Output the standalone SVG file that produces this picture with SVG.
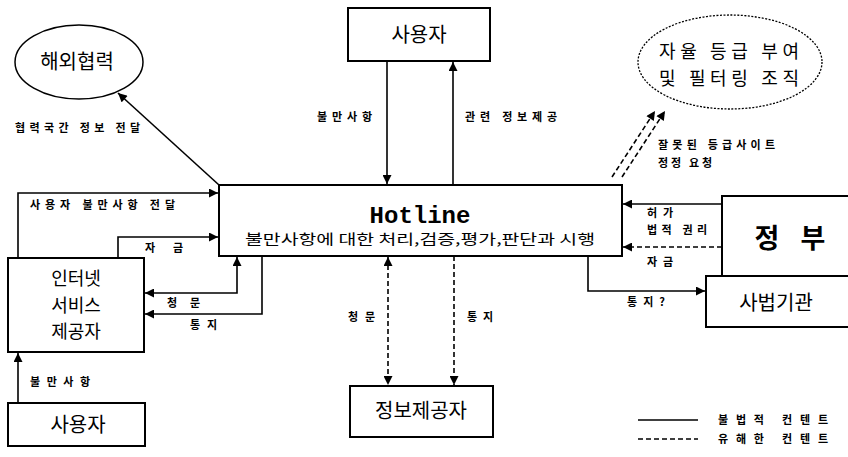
<svg xmlns="http://www.w3.org/2000/svg" width="848" height="457" viewBox="0 0 848 457">
<style>
.box{fill:#fff;stroke:#000;stroke-width:2}
.ell{fill:#fff;stroke:#000;stroke-width:1.5}
.ell-d{fill:#fff;stroke:#000;stroke-width:1.3;stroke-dasharray:2 1.5}
.ln{fill:none;stroke:#000;stroke-width:1.6}
.dl{fill:none;stroke:#000;stroke-width:1.6;stroke-dasharray:5 3}
.nt{font-family:"Noto Sans CJK KR","Noto Sans",sans-serif;font-size:20px;fill:#000;text-anchor:middle}
.ml{font-size:18px}
.lb{font-family:"Noto Sans CJK KR","Noto Sans",sans-serif;font-size:11px;font-weight:bold;fill:#000}
</style>
<defs>
<marker id="ah" viewBox="0 0 10 10" refX="10" refY="5" markerWidth="10" markerHeight="9" markerUnits="userSpaceOnUse" orient="auto-start-reverse">
<path d="M0 0 L10 5 L0 10 Z" fill="#000"/>
</marker>
</defs>
<rect width="848" height="457" fill="#fff"/>

<g id="connectors">
<path class="ln" d="M387 61 V184" marker-end="url(#ah)"/>
<path class="ln" d="M453 185 V62" marker-end="url(#ah)"/>
<path class="ln" d="M219 185 L118 93" marker-end="url(#ah)"/>
<path class="dl" d="M612 177 L655 111" marker-end="url(#ah)"/>
<path class="dl" d="M622 177 L665 111" marker-end="url(#ah)"/>
<path class="ln" d="M18 403 V353" marker-end="url(#ah)"/>
<path class="ln" d="M18 258 V193 H218" marker-end="url(#ah)"/>
<path class="ln" d="M118 258 V237 H218" marker-end="url(#ah)"/>
<path class="ln" d="M145 293 H237 V257" marker-start="url(#ah)" marker-end="url(#ah)"/>
<path class="ln" d="M262 256 V314 H145" marker-end="url(#ah)"/>
<path class="dl" d="M388 257 V385" marker-start="url(#ah)" marker-end="url(#ah)"/>
<path class="dl" d="M454 256 V385" marker-end="url(#ah)"/>
<path class="ln" d="M722 204 H623" marker-end="url(#ah)"/>
<path class="dl" d="M722 247 H623" marker-end="url(#ah)"/>
<path class="ln" d="M588 256 V291 H705" marker-end="url(#ah)"/>
</g>

<g id="hotline">
<rect class="box" x="219" y="185" width="403" height="71"/>
<text x="420" y="223" text-anchor="middle" font-family="'Liberation Mono','DejaVu Sans Mono',monospace" font-weight="bold" font-size="24">Hotline</text>
<text x="245" y="244" textLength="350" lengthAdjust="spacingAndGlyphs" font-family="'Noto Sans CJK KR','Noto Sans',sans-serif" font-size="14">불만사항에 대한 처리,검증,평가,판단과 시행</text>
</g>

<g id="user-top">
<rect class="box" x="348" y="8" width="142" height="53"/>
<text class="nt" x="419" y="42">사용자</text>
</g>

<g id="overseas">
<ellipse class="ell" cx="79" cy="62" rx="64" ry="37"/>
<text class="nt" x="77" y="69">해외협력</text>
</g>

<g id="rating-org">
<ellipse class="ell-d" cx="730" cy="62" rx="92" ry="47"/>
<text class="nt ml" x="729" y="58" textLength="140" lengthAdjust="spacing">자율 등급 부여</text>
<text class="nt ml" x="729" y="84.5" textLength="140" lengthAdjust="spacing">및 필터링 조직</text>
</g>

<g id="isp">
<rect class="box" x="8" y="258" width="136" height="94"/>
<text class="nt ml" x="76" y="285">인터넷</text>
<text class="nt ml" x="76" y="311.5">서비스</text>
<text class="nt ml" x="76" y="338">제공자</text>
</g>

<g id="user-bottom">
<rect class="box" x="8" y="403" width="137" height="43"/>
<text class="nt" x="78" y="432">사용자</text>
</g>

<g id="info-provider">
<rect class="box" x="350" y="386" width="143" height="51"/>
<text class="nt" x="421" y="418">정보제공자</text>
</g>

<g id="government">
<rect class="box" x="722" y="196" width="130" height="80"/>
<text x="767" y="248" text-anchor="middle" font-family="'Noto Sans CJK KR',sans-serif" font-weight="bold" font-size="27">정</text>
<text x="813" y="248" text-anchor="middle" font-family="'Noto Sans CJK KR',sans-serif" font-weight="bold" font-size="27">부</text>
</g>

<g id="judiciary">
<rect class="box" x="706" y="276" width="146" height="51"/>
<text class="nt" x="776" y="310">사법기관</text>
</g>

<g id="labels">
<text class="lb" x="15" y="132" textLength="125" lengthAdjust="spacing">협력국간 정보 전달</text>
<text class="lb" x="317" y="121" textLength="55" lengthAdjust="spacing">불만사항</text>
<text class="lb" x="465" y="121" textLength="92" lengthAdjust="spacing">관련 정보제공</text>
<text class="lb" x="658" y="149" textLength="117" lengthAdjust="spacing">잘못된 등급사이트</text>
<text class="lb" x="658" y="167" textLength="54" lengthAdjust="spacing">정정 요청</text>
<text class="lb" x="30" y="209" textLength="145" lengthAdjust="spacing">사용자 불만사항 전달</text>
<text class="lb" x="145" y="252" textLength="38" lengthAdjust="spacing">자 금</text>
<text class="lb" x="167" y="307" textLength="33" lengthAdjust="spacing">청문</text>
<text class="lb" x="190" y="329" textLength="27" lengthAdjust="spacing">통지</text>
<text class="lb" x="30" y="386" textLength="60" lengthAdjust="spacing">불만사항</text>
<text class="lb" x="348" y="321" textLength="27" lengthAdjust="spacing">청문</text>
<text class="lb" x="467" y="321" textLength="26" lengthAdjust="spacing">통지</text>
<text class="lb" x="647" y="217" textLength="26" lengthAdjust="spacing">허가</text>
<text class="lb" x="647" y="234" textLength="60" lengthAdjust="spacing">법적 권리</text>
<text class="lb" x="647" y="266" textLength="26" lengthAdjust="spacing">자금</text>
<text class="lb" x="627" y="306" textLength="38" lengthAdjust="spacing">통지?</text>
</g>

<g id="legend">
<line class="ln" x1="638" y1="420" x2="698" y2="420"/>
<line class="dl" x1="638" y1="439" x2="698" y2="439"/>
<text class="lb" x="718" y="424" textLength="110" lengthAdjust="spacing" font-size="12">불법적 컨텐트</text>
<text class="lb" x="718" y="443" textLength="110" lengthAdjust="spacing" font-size="12">유해한 컨텐트</text>
</g>
</svg>
